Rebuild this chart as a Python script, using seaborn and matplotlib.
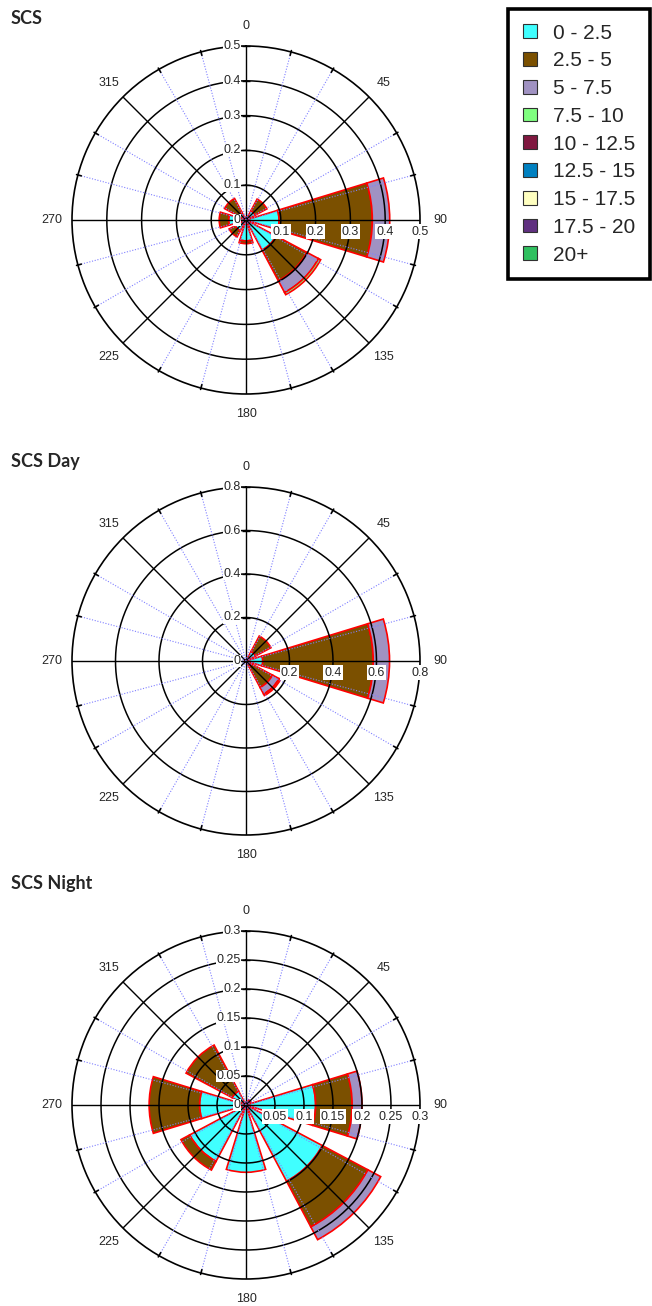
import numpy as np
import pandas as pd
import seaborn as sns
import matplotlib
matplotlib.use("Agg")
import matplotlib.pyplot as plt
from matplotlib.patches import Patch

sns.set_theme(style="white")
plt.rcParams['font.family'] = ['Liberation Sans', 'DejaVu Sans']

# ---------------- data ----------------
directions = [0, 45, 90, 135, 180, 225, 270, 315]
speed_bins = ["0 - 2.5", "2.5 - 5", "5 - 7.5", "7.5 - 10", "10 - 12.5",
              "12.5 - 15", "15 - 17.5", "17.5 - 20", "20+"]
bin_colors = ["#40FFFF", "#7B5000", "#A092C2", "#80FF80", "#801840",
              "#0080C0", "#FFFFC0", "#603080", "#30C060"]

no_data = [0, 0, 0, 0, 0, 0, 0, 0]

# SCS (all)
scs_0_2_5 = [0.008, 0.030, 0.095, 0.098, 0.060, 0.035, 0.050, 0.025]
scs_2_5_5 = [0.000, 0.038, 0.268, 0.100, 0.008, 0.020, 0.027, 0.045]
scs_5_7_5 = [0.000, 0.000, 0.050, 0.038, 0.000, 0.000, 0.000, 0.000]
scs_7_5_10 = [0.000, 0.000, 0.000, 0.007, 0.000, 0.000, 0.000, 0.000]

# SCS Day
day_0_2_5 = [0.005, 0.050, 0.077, 0.030, 0.005, 0.005, 0.005, 0.005]
day_2_5_5 = [0.000, 0.080, 0.508, 0.108, 0.000, 0.000, 0.000, 0.000]
day_5_7_5 = [0.000, 0.000, 0.075, 0.034, 0.000, 0.000, 0.000, 0.000]
day_7_5_10 = [0.000, 0.000, 0.000, 0.008, 0.000, 0.000, 0.000, 0.000]

# SCS Night
night_0_2_5 = [0.005, 0.010, 0.120, 0.149, 0.116, 0.110, 0.080, 0.027]
night_2_5_5 = [0.000, 0.000, 0.063, 0.089, 0.000, 0.017, 0.087, 0.090]
night_5_7_5 = [0.000, 0.000, 0.017, 0.025, 0.000, 0.000, 0.000, 0.000]
night_7_5_10 = [0.000, 0.000, 0.000, 0.000, 0.000, 0.000, 0.000, 0.000]

panels = [
    dict(title="SCS", rmax=0.5, rings=[0.1, 0.2, 0.3, 0.4, 0.5],
         series=[scs_0_2_5, scs_2_5_5, scs_5_7_5, scs_7_5_10] + [no_data] * 5),
    dict(title="SCS Day", rmax=0.8, rings=[0.2, 0.4, 0.6, 0.8],
         series=[day_0_2_5, day_2_5_5, day_5_7_5, day_7_5_10] + [no_data] * 5),
    dict(title="SCS Night", rmax=0.3, rings=[0.05, 0.1, 0.15, 0.2, 0.25, 0.3],
         series=[night_0_2_5, night_2_5_5, night_5_7_5, night_7_5_10] + [no_data] * 5),
]

# ---------------- layout ----------------
W, H = 652, 1306
fig = plt.figure(figsize=(W / 100, H / 100), dpi=100)
fig.patch.set_facecolor("white")

centers_y = [220, 661, 1105]
title_y = [18, 462, 884]
R = 174
cx = 246
sector_width = np.deg2rad(34)

def fmt(v):
    return f"{v:g}"

for p, cy, ty in zip(panels, centers_y, title_y):
    ax = fig.add_axes([(cx - R) / W, 1 - (cy + R) / H, 2 * R / W, 2 * R / H],
                      projection="polar")
    ax.set_theta_zero_location("N")
    ax.set_theta_direction(-1)
    ax.set_ylim(0, p["rmax"])
    ax.grid(False)
    ax.set_xticks([])
    ax.set_yticks([])
    ax.set_facecolor("white")
    ax.spines["polar"].set_color("black")
    ax.spines["polar"].set_linewidth(1.2)

    df = pd.DataFrame({"direction": np.tile(directions, len(speed_bins)),
                       "bin": np.repeat(speed_bins, len(directions)),
                       "value": np.concatenate(p["series"])})
    theta = np.deg2rad(directions)
    bottom = np.zeros(len(directions))
    for b, col in zip(speed_bins, bin_colors):
        vals = df.loc[df["bin"] == b, "value"].to_numpy()
        mask = vals > 0
        if mask.any():
            ax.bar(theta[mask], vals[mask], width=sector_width, bottom=bottom[mask],
                   color=col, edgecolor="red", linewidth=1.2, zorder=2)
        bottom = bottom + vals

    # grid drawn over the bars
    t = np.linspace(0, 2 * np.pi, 400)
    for r in p["rings"][:-1]:
        ax.plot(t, np.full_like(t, r), color="black", lw=1.1, zorder=3)
    for ang in range(0, 360, 15):
        th = np.deg2rad(ang)
        if ang % 45 == 0:
            ax.plot([th, th], [0, p["rmax"]], color="black", lw=1.0, zorder=3)
        else:
            ax.plot([th, th], [0, p["rmax"]], color="#8080FF", lw=0.8,
                    ls=(0, (1, 1.5)), zorder=3)
            ax.plot([th, th], [p["rmax"] * 0.98, p["rmax"] * 1.008], color="black",
                    lw=1.2, zorder=4, clip_on=False)

    # radial tick labels on N axis
    for r in [0] + p["rings"]:
        ax.plot([0], [r], marker="_", color="black", ms=6, mew=1.0, zorder=5,
                clip_on=False)
        ax.annotate(fmt(r), xy=(0, r), xytext=(-4, 0), textcoords="offset points",
                    ha="right", va="center", fontsize=9, zorder=6,
                    bbox=dict(fc="white", ec="none", pad=0.3))
    # radial labels along E axis
    for r in p["rings"]:
        ax.annotate(fmt(r), xy=(np.pi / 2, r), xytext=(0, -4), textcoords="offset points",
                    ha="center", va="top", fontsize=9, zorder=6,
                    bbox=dict(fc="white", ec="none", pad=0.8))
    # direction labels
    for ang in range(0, 360, 45):
        ax.text(np.deg2rad(ang), p["rmax"] * 1.115, str(ang), ha="center", va="center",
                fontsize=9, clip_on=False)

    fig.text(11 / W, 1 - ty / H, p["title"], ha="left", va="center", fontsize=13,
             fontweight="bold", family=["Lato", "DejaVu Sans"])

handles = [Patch(facecolor=c, edgecolor="#303030", linewidth=0.8) for c in bin_colors]
leg = fig.legend(handles, speed_bins, loc="upper right",
                 bbox_to_anchor=(650 / W, 1 - 9 / H), borderaxespad=0,
                 fontsize=15, frameon=True, fancybox=False, framealpha=1,
                 edgecolor="black", handlelength=0.65, handleheight=0.65,
                 handletextpad=0.8, labelspacing=0.42, borderpad=0.7)
leg.get_frame().set_linewidth(2.6)

fig.savefig("out.png", dpi=100, facecolor="white")
